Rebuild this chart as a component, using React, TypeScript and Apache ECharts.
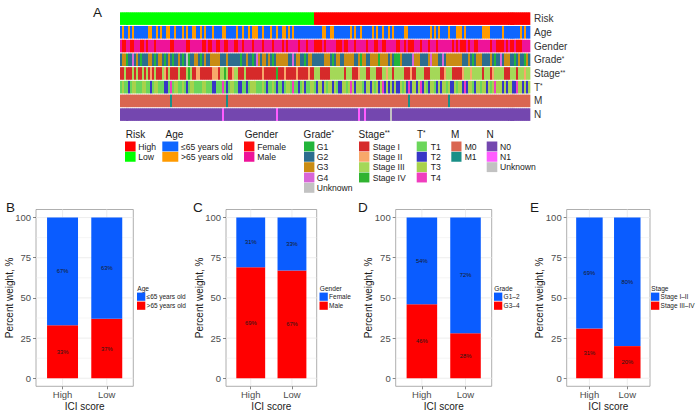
import React, { useEffect, useRef } from 'react';
import * as echarts from 'echarts';

const FONT = '"Liberation Sans", Arial, Helvetica, sans-serif';

// ---------------- Panel A : annotation tracks ----------------
const trackNames = ['Risk', 'Age', 'Gender', 'Grade', 'Stage', 'T', 'M', 'N'];
const trackSup = ['', '', '', '*', '**', '*', '', ''];

const riskItems = [
  { key: 'H', label: 'High', color: '#FF0000' },
  { key: 'L', label: 'Low', color: '#00FF00' },
];
const ageItems = [
  { key: 'a', label: '≤65 years old', color: '#0F66FF' },
  { key: 'b', label: '>65 years old', color: '#FF9A00' },
];
const genderItems = [
  { key: 'f', label: 'Female', color: '#FF0A0A' },
  { key: 'm', label: 'Male', color: '#EE1399' },
];
const gradeItems = [
  { key: '1', label: 'G1', color: '#22B53A' },
  { key: '2', label: 'G2', color: '#2C6D8F' },
  { key: '3', label: 'G3', color: '#C98C14' },
  { key: '4', label: 'G4', color: '#D865D8' },
  { key: 'u', label: 'Unknown', color: '#C2C2C2' },
];
const stageItems = [
  { key: '1', label: 'Stage I', color: '#D62A2A' },
  { key: '2', label: 'Stage II', color: '#F8A86A' },
  { key: '3', label: 'Stage III', color: '#A4D858' },
  { key: '4', label: 'Stage IV', color: '#30B330' },
];
const tItems = [
  { key: '1', label: 'T1', color: '#6BD65B' },
  { key: '2', label: 'T2', color: '#3737C6' },
  { key: '3', label: 'T3', color: '#A8D24C' },
  { key: '4', label: 'T4', color: '#F03DBE' },
];
const mItems = [
  { key: '0', label: 'M0', color: '#DA6651' },
  { key: '1', label: 'M1', color: '#1A8F87' },
];
const nItems = [
  { key: '0', label: 'N0', color: '#7447AF' },
  { key: '1', label: 'N1', color: '#FF5CFF' },
  { key: 'u', label: 'Unknown', color: '#C2C2C2' },
];

// per-sample codes (one character per sample)
const riskRuns: [string, number][] = [['L', 97], ['H', 108]];
const ageSeq = [
  'abaababaaa', 'aaaabbaaba', 'baabbaabaa', 'ababaabbaa', 'babaaabaaa',
  'abbaaaaaba', 'abaababbba', 'abaaabaaba', 'abbababaaa', 'aaaaaaaaaa',
  'abbaabbaaa', 'aaaaababaa', 'baaaaababa', 'abaababaaa', 'aabbaaaaaa',
  'aaaaababab', 'aaaabaaabb', 'babaaaaaaa', 'abbbbaaaaa', 'abaaaaaaaa', 'babaa',
].join('');
const genderSeq = [
  'mffmmffmmm', 'ffmfmmmfmm', 'mmmmmffmmm', 'mmmffmmmmm', 'mffmffmmff',
  'mmffmmmffm', 'mfmmmmfmmm', 'mfmmmmfmmm', 'mfmfmmmmmf', 'mmmfmmmfff',
  'fmfmmmmmff', 'fmffmmmfmm', 'mmmfmmmffm', 'mffmmmmmff', 'mmfmfffmmm',
  'fmmmfmmmfm', 'mmmmmmfmfm', 'fffmfmmffm', 'mmmmmfmmff', 'ffmfmffmff', 'fmmmm',
].join('');
const gradeSeq = [
  '2331224232', '1222332123', '3212321223', '212u122332', '1232233333',
  '2223222222', '1223221243', '2332321233', '3333224233', '2212332222',
  '2233321233', '2233333223', '1332233331', '3333232111', '3222224333',
  '2222343332', '2423333333', '3222321233', '3222232122', '4233322123', '22132',
].join('');
const stageSeq = [
  '1131113131', '1313121311', '1321311113', '1113431122', '1111112221',
  '3343112331', '1131111111', '1211111141', '1121111121', '1111211333',
  '1111133333', '3313331112', '3331133311', '1332331333', '3311121133',
  '3311133333', '1123331111', '1233323333', '3133312333', '3311133313', '33233',
].join('');
const tSeq = [
  '1311213311', '1331121331', '1122141331', '1312133111', '1331112211',
  '1412133112', '2112133311', '1312113121', '1213314112', '1321133123',
  '3231332312', '2331343233', '3123323132', '3423232322', '3132423323',
  '4231233123', '2331322313', '3242331233', '1332313433', '3232332243', '32323',
].join('');
const mRuns: [string, number][] = [
  ['0', 25], ['1', 1], ['0', 27], ['1', 1], ['0', 90], ['1', 1], ['0', 19], ['1', 1], ['0', 40],
];
const nRuns: [string, number][] = [
  ['0', 51], ['1', 1], ['0', 26], ['1', 1], ['0', 40], ['1', 1], ['0', 2], ['1', 1], ['0', 12], ['u', 1], ['0', 69],
];

// ---------------- Panels B-E : stacked percentages ----------------
const iciCategories = ['High', 'Low'];
const yTickValues = [0, 25, 50, 75, 100];
const yMinorValues = [12.5, 37.5, 62.5, 87.5];

const ageYoung = [67, 63];
const ageOld = [33, 37];
const genderFemale = [31, 33];
const genderMale = [69, 67];
const gradeG12 = [54, 72];
const gradeG34 = [46, 28];
const stageEarly = [69, 80];
const stageLate = [31, 20];

const BLUE = '#0A5CFF';
const RED = '#FF0000';
const barColors = [RED, BLUE];

const expand = (runs: [string, number][]) => runs.map(([k, n]) => k.repeat(n)).join('');

export default function App() {
  const ref = useRef<HTMLDivElement>(null);

  useEffect(() => {
    if (!ref.current) return;
    const chart = echarts.init(ref.current, null, { renderer: 'svg' });

    const trackItems = [riskItems, ageItems, genderItems, gradeItems, stageItems, tItems, mItems, nItems];
    const trackSeqs = [expand(riskRuns), ageSeq, genderSeq, gradeSeq, stageSeq, tSeq, expand(mRuns), expand(nRuns)];
    const palette: string[] = [];
    const idxMaps = trackItems.map((items) => {
      const m: Record<string, number> = {};
      items.forEach((it) => {
        m[it.key] = palette.length;
        palette.push(it.color);
      });
      return m;
    });
    const nCols = trackSeqs[0].length;
    const heatData: number[][] = [];
    trackSeqs.forEach((seq, r) => {
      for (let c = 0; c < seq.length; c++) {
        const k = idxMaps[r][seq[c]];
        if (k !== undefined) heatData.push([c, r, k]);
      }
    });

    const graphics: any[] = [];
    const txt = (x: number, y: number, text: string, size: number, extra: any = {}) =>
      graphics.push({
        type: 'text', x, y, silent: true,
        style: { text, fontSize: size, fontFamily: FONT, fill: '#1a1a1a', verticalAlign: 'middle', align: 'left', ...extra },
      });

    // panel letters
    txt(93, 12.5, 'A', 13.5);
    [['B', 6], ['C', 193], ['D', 358], ['E', 530]].forEach(([l, x]) => txt(x as number, 207, l as string, 13.5));

    // heatmap legends
    const heatLegendPos = [
      { tx: 125.7, sx: 125, sw: 10.6, lx: 138.3 },
      { tx: 165.5, sx: 162.3, sw: 16, lx: 181 },
      { tx: 244.7, sx: 244, sw: 10.4, lx: 257.3 },
      { tx: 303.6, sx: 304, sw: 10.4, lx: 316.7 },
      { tx: 358.6, sx: 359, sw: 10.4, lx: 372.7 },
      { tx: 417, sx: 416.7, sw: 10.2, lx: 430.7 },
      { tx: 451, sx: 451.3, sw: 10.2, lx: 464.7 },
      { tx: 486.5, sx: 486.7, sw: 10.6, lx: 500 },
    ];
    trackItems.forEach((items, g) => {
      const pos = heatLegendPos[g];
      const sup = trackSup[g];
      graphics.push({
        type: 'text', x: pos.tx, y: 134, silent: true,
        style: {
          text: sup ? `${trackNames[g]}{s|${sup}}` : trackNames[g],
          fontSize: 10, fontFamily: FONT, fill: '#1a1a1a', verticalAlign: 'middle', align: 'left',
          rich: { s: { fontSize: 6.5, fontFamily: FONT, fill: '#1a1a1a', verticalAlign: 'top' } },
        },
      });
      items.forEach((it, i) => {
        const y = 141.5 + i * 10.35;
        graphics.push({ type: 'rect', silent: true, shape: { x: pos.sx, y, width: pos.sw, height: 9.9 }, style: { fill: it.color } });
        txt(pos.lx, y + 5, it.label, 8.6);
      });
    });

    // bar panels
    const barPanels = [
      { left: 36, width: 97.3, legX: 137, title: 'Age', names: ['≤65 years old', '>65 years old'], top: ageYoung, bottom: ageOld },
      { left: 226, width: 90.7, legX: 319.5, title: 'Gender', names: ['Female', 'Male'], top: genderFemale, bottom: genderMale },
      { left: 395.7, width: 96, legX: 494, title: 'Grade', names: ['G1–2', 'G3–4'], top: gradeG12, bottom: gradeG34 },
      { left: 566.7, width: 83.3, legX: 651, title: 'Stage', names: ['Stage I–II', 'Stage III–IV'], top: stageEarly, bottom: stageLate },
    ];
    const PANEL_TOP = 209.5;
    const PANEL_H = 176.8;

    barPanels.forEach((p) => {
      txt(p.legX + 0.3, 288.3, p.title, 6.6);
      [BLUE, RED].forEach((col, i) => {
        const y = 292.6 + i * 9;
        graphics.push({ type: 'rect', silent: true, shape: { x: p.legX, y, width: 8.3, height: 8.2 }, style: { fill: col } });
        txt(p.legX + 9.6, y + 4.2, p.names[i], 6.5);
      });
    });

    const grids: any[] = [
      { left: 120, top: 11.8, width: 410, height: 109.7, outerBoundsMode: 'none' },
      ...barPanels.map((p) => ({
        left: p.left, top: PANEL_TOP, width: p.width, height: PANEL_H,
        show: true, borderColor: '#9A9A9A', borderWidth: 0.8, backgroundColor: '#FFFFFF',
        outerBoundsMode: 'none',
      })),
    ];

    const xAxes: any[] = [
      { type: 'category', gridIndex: 0, data: Array.from({ length: nCols }, (_, i) => i), show: false, boundaryGap: true },
    ];
    const yAxes: any[] = [
      {
        type: 'category', gridIndex: 0, data: trackNames, inverse: true, position: 'right',
        axisLine: { show: false }, axisTick: { show: false }, splitLine: { show: false },
        axisLabel: {
          margin: 4, fontSize: 10, color: '#333333', fontFamily: FONT,
          formatter: (v: string, i: number) => (trackSup[i] ? `${v}{s|${trackSup[i]}}` : v),
          rich: { s: { fontSize: 6.5, color: '#333333', fontFamily: FONT, verticalAlign: 'top' } },
        },
      },
    ];
    const series: any[] = [
      {
        type: 'custom', xAxisIndex: 0, yAxisIndex: 0, data: heatData, silent: true,
        renderItem: (_params: any, api: any) => {
          const pt = api.coord([api.value(0), api.value(1)]);
          const s = api.size([1, 1]);
          return {
            type: 'rect',
            shape: { x: pt[0] - s[0] / 2, y: pt[1] - s[1] / 2 + 0.5, width: s[0] + 0.35, height: s[1] - 1.1 },
            style: { fill: palette[api.value(2)] },
          };
        },
      },
    ];

    // grid line items: [orientation (0 horizontal, 1 vertical), value, width]
    const gridLineData: number[][] = [
      ...yTickValues.map((v) => [0, v, 0.9]),
      ...yMinorValues.map((v) => [0, v, 0.45]),
      ...iciCategories.map((_, i) => [1, i + 1, 0.9]),
    ];

    barPanels.forEach((p, k) => {
      const gi = k + 1;
      xAxes.push({
        type: 'value', gridIndex: gi, min: 0.4, max: 2.6,
        axisLine: { show: false, onZero: false }, splitLine: { show: false },
        axisTick: { show: true, customValues: [1, 2], length: 3, lineStyle: { color: '#333', width: 0.6 } },
        axisLabel: {
          customValues: [1, 2], formatter: (v: number) => iciCategories[Math.round(v) - 1] ?? '',
          fontSize: 9.5, color: '#4D4D4D', margin: 3.5, fontFamily: FONT,
        },
        name: 'ICI score', nameLocation: 'middle', nameGap: 15, nameMoveOverlap: false,
        nameTextStyle: { fontSize: 10, color: '#1a1a1a', fontFamily: FONT },
      });
      yAxes.push({
        type: 'value', gridIndex: gi, min: -5, max: 105,
        axisLine: { show: false, onZero: false }, splitLine: { show: false },
        axisTick: { show: true, customValues: yTickValues, length: 3, lineStyle: { color: '#333', width: 0.6 } },
        axisLabel: { customValues: yTickValues, fontSize: 9.5, color: '#4D4D4D', margin: 5, fontFamily: FONT },
        name: 'Percent weight, %', nameLocation: 'middle', nameGap: 22, nameMoveOverlap: false,
        nameTextStyle: { fontSize: 10, color: '#1a1a1a', fontFamily: FONT },
      });

      // background grid lines
      series.push({
        type: 'custom', xAxisIndex: gi, yAxisIndex: gi, silent: true, z: 1,
        data: gridLineData,
        renderItem: (_params: any, api: any) => {
          const vertical = api.value(0) === 1;
          const v = api.value(1);
          const a = vertical ? api.coord([v, -5]) : api.coord([0.4, v]);
          const b = vertical ? api.coord([v, 105]) : api.coord([2.6, v]);
          return {
            type: 'line',
            shape: { x1: a[0], y1: a[1], x2: b[0], y2: b[1] },
            style: { stroke: '#EBEBEB', lineWidth: api.value(2) },
          };
        },
      });

      // stacked bars: [x, start, end, percent, colourIndex]
      const stackData: number[][] = [];
      iciCategories.forEach((_, i) => {
        stackData.push([i + 1, 0, p.bottom[i], p.bottom[i], 0]);
        stackData.push([i + 1, p.bottom[i], p.bottom[i] + p.top[i], p.top[i], 1]);
      });
      series.push({
        type: 'custom', xAxisIndex: gi, yAxisIndex: gi, silent: true, z: 3,
        encode: { x: 0, y: [1, 2] },
        data: stackData,
        renderItem: (_params: any, api: any) => {
          const x = api.value(0);
          const a = api.coord([x - 0.35, api.value(2)]);
          const b = api.coord([x + 0.35, api.value(1)]);
          return {
            type: 'group',
            children: [
              {
                type: 'rect',
                shape: { x: a[0], y: a[1], width: b[0] - a[0], height: b[1] - a[1] },
                style: { fill: barColors[api.value(4)] },
              },
              {
                type: 'text', x: (a[0] + b[0]) / 2, y: (a[1] + b[1]) / 2,
                style: {
                  text: `${api.value(3)}%`, fontSize: 5.8, fontFamily: FONT, fill: '#1a1a1a',
                  align: 'center', verticalAlign: 'middle',
                },
              },
            ],
          };
        },
      });
    });

    chart.setOption({
      animation: false,
      backgroundColor: '#FFFFFF',
      textStyle: { fontFamily: FONT },
      grid: grids,
      xAxis: xAxes,
      yAxis: yAxes,
      series,
      graphic: { elements: graphics },
    });

    return () => chart.dispose();
  }, []);

  return <div ref={ref} style={{ position: 'absolute', left: 0, top: 0, width: 697, height: 415 }} />;
}
